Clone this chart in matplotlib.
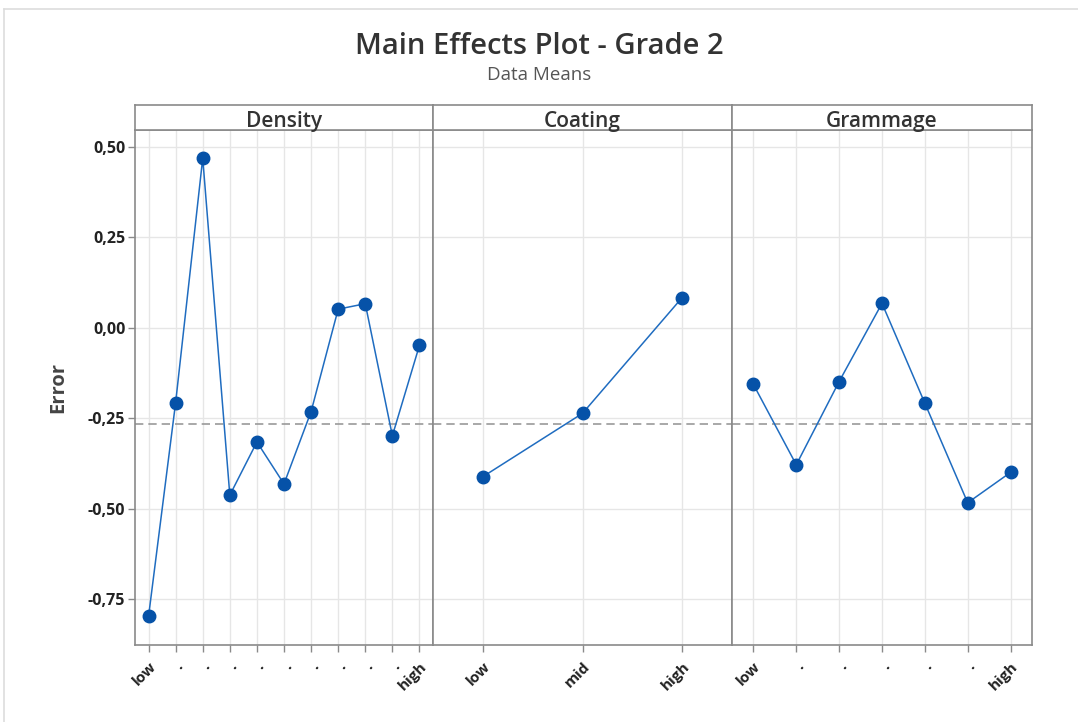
import matplotlib
matplotlib.use("Agg")
import matplotlib.pyplot as plt
from matplotlib.lines import Line2D
from matplotlib.ticker import FuncFormatter

plt.rcParams['font.family'] = ['Open Sans', 'DejaVu Sans']

# data
density_labels = ['low', '.', '.', '.', '.', '.', '.', '.', '.', '.', 'high']
density_means = [-0.797, -0.206, 0.469, -0.462, -0.315, -0.431, -0.231, 0.052, 0.067, -0.298, -0.048]
coating_labels = ['low', 'mid', 'high']
coating_means = [-0.411, -0.236, 0.084]
grammage_labels = ['low', '.', '.', '.', '.', '.', 'high']
grammage_means = [-0.156, -0.378, -0.148, 0.068, -0.208, -0.483, -0.399]
overall_mean = -0.264
factors = ['Density', 'Coating', 'Grammage']
yticks = [0.5, 0.25, 0.0, -0.25, -0.5, -0.75]

W, H = 1078, 722
fig = plt.figure(figsize=(W / 100, H / 100), dpi=100)

# light frame round the chart
fig.add_artist(Line2D([4 / W, 4 / W], [0, 1 - 9 / H], color='#dddddd', lw=1.2))
fig.add_artist(Line2D([4 / W, 1], [1 - 9 / H, 1 - 9 / H], color='#dddddd', lw=1.2))

fig.text(0.5, 1 - 47 / H, 'Main Effects Plot - Grade 2', ha='center', va='center',
         fontsize=21, fontweight='semibold', color='#333333')
fig.text(0.5, 1 - 75 / H, 'Data Means', ha='center', va='center',
         fontsize=13.5, color='#555555')

edges = [135, 433, 732, 1032]
top, bottom, strip_top = 130, 645, 105
data = [(density_labels, density_means), (coating_labels, coating_means),
        (grammage_labels, grammage_means)]

edge_col = '#8a8a8a'
fmt = FuncFormatter(lambda v, p: ('%.2f' % v).replace('.', ','))

for i, (labels, means) in enumerate(data):
    x0, x1 = edges[i], edges[i + 1]
    ax = fig.add_axes([x0 / W, 1 - bottom / H, (x1 - x0) / W, (bottom - top) / H])
    xs = list(range(len(labels)))
    ax.plot(xs, means, color='#1f6cc0', lw=1.1, marker='o', markersize=9,
            markerfacecolor='#0652a8', markeredgecolor='#0652a8', zorder=3)
    ax.axhline(overall_mean, color='#9a9a9a', lw=1.2, ls=(0, (5, 3)), zorder=2)
    ax.set_xlim(-0.5, len(labels) - 0.5)
    ax.set_ylim(-0.876, 0.547)
    ax.set_xticks(xs)
    ax.set_xticklabels(labels, rotation=45, ha='right', rotation_mode='anchor',
                       fontsize=11, fontweight='bold', color='#222222')
    ax.set_yticks(yticks)
    ax.yaxis.set_major_formatter(fmt)
    ax.grid(True, color='#e6e6e6', lw=1.0, zorder=0)
    ax.set_axisbelow(True)
    for s in ax.spines.values():
        s.set_color(edge_col)
        s.set_linewidth(1.2)
    ax.tick_params(axis='both', color=edge_col, length=5, width=1)
    ax.tick_params(axis='x', pad=5)
    if i == 0:
        ax.tick_params(axis='y', labelsize=11.5, labelcolor='#222222', pad=2)
        for t in ax.get_yticklabels():
            t.set_fontweight('bold')
        ax.set_ylabel('Error', fontsize=14.5, fontweight='bold', color='#444444',
                      labelpad=14)
    else:
        ax.tick_params(axis='y', left=False, labelleft=False)

    # header strip
    hs = fig.add_axes([x0 / W, 1 - top / H, (x1 - x0) / W, (top - strip_top) / H])
    hs.set_xticks([])
    hs.set_yticks([])
    for s in hs.spines.values():
        s.set_color(edge_col)
        s.set_linewidth(1.2)
    hs.text(0.5, 0.36, factors[i], transform=hs.transAxes, ha='center', va='center',
            fontsize=15, fontweight='semibold', color='#333333')

fig.savefig('out.png', dpi=100)
